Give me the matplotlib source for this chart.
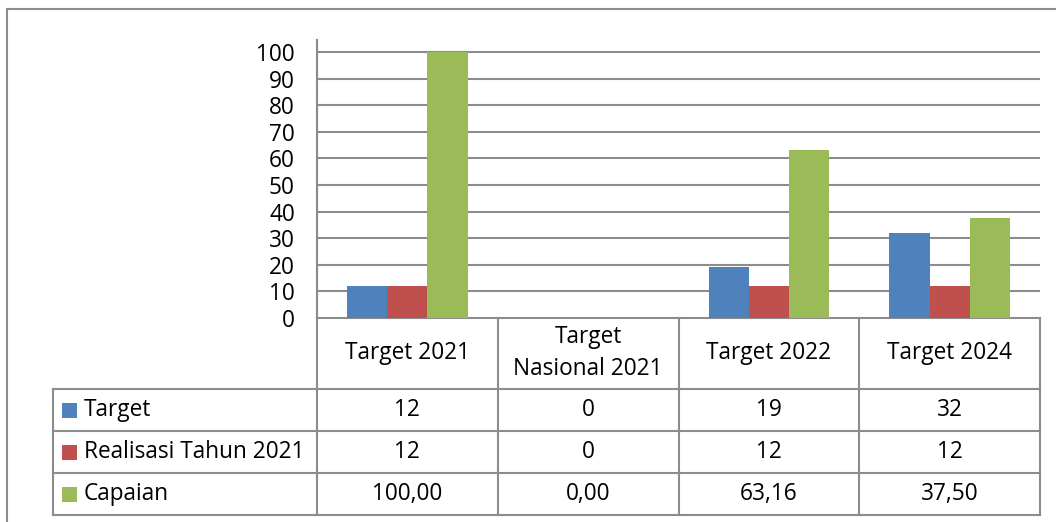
import matplotlib.pyplot as plt
from matplotlib.transforms import blended_transform_factory
from matplotlib.patches import Rectangle

categories = ['Target 2021', 'Target\nNasional 2021', 'Target 2022', 'Target 2024']
series_names = ['Target', 'Realisasi Tahun 2021', 'Capaian']
target = [12, 0, 19, 32]
realisasi = [12, 0, 12, 12]
capaian = [100.00, 0.00, 63.16, 37.50]
yticks = [0, 10, 20, 30, 40, 50, 60, 70, 80, 90, 100]

colors = ['#4F81BD', '#C0504D', '#9BBB59']
grid_c = '#8C8C8C'
W, H = 1056, 522
fs = 16.3

plt.rcParams['font.family'] = ['Open Sans', 'DejaVu Sans']
fig = plt.figure(figsize=(W / 100, H / 100), dpi=100)
fig.set_facecolor('white')

# pixel-space overlay used for the frame and the data table
pax = fig.add_axes([0, 0, 1, 1])
pax.set_xlim(0, W)
pax.set_ylim(H, 0)
pax.axis('off')

# plot area: x 317..1040, y 40..318 (px)
px_l, px_r, px_top, px_base = 317, 1040, 40, 318
ax = fig.add_axes([px_l / W, (H - px_base) / H, (px_r - px_l) / W,
                   (px_base - px_top) / H])
ax.set_facecolor('none')
unit = 26.6 / 10.0
ax.set_ylim(0, (px_base - px_top) / unit)
ax.set_xlim(-0.5, len(categories) - 0.5)

series = [target, realisasi, capaian]
bw = 1.0 / 4.5
for k, vals in enumerate(series):
    xs = [i + (k - 1) * bw for i in range(len(categories))]
    ax.bar(xs, vals, width=bw, color=colors[k], zorder=3, linewidth=0)

for y in yticks[1:]:
    ax.axhline(y, color=grid_c, lw=1.5, zorder=1)
for s in ['top', 'right', 'bottom']:
    ax.spines[s].set_visible(False)
ax.spines['left'].set_color(grid_c)
ax.spines['left'].set_linewidth(1.5)
ax.set_xticks([])
ax.set_yticks(yticks)
ax.set_yticklabels([str(v) for v in yticks], fontsize=fs)
ax.tick_params(axis='y', length=0, pad=16)

# outer chart frame
pax.plot([7, W], [9, 9], color=grid_c, lw=1.5)
pax.plot([7, 7], [9, H], color=grid_c, lw=1.5)

# data table below the plot
col_edges = [px_l + (px_r - px_l) * i / 4 for i in range(5)]
row_edges = [389, 431, 473, 515]
lw = 1.5
pax.plot([px_l, px_r], [px_base, px_base], color=grid_c, lw=lw)
for x in col_edges:
    pax.plot([x, x], [px_base, row_edges[-1]], color=grid_c, lw=lw)
pax.plot([px_l, px_l], [px_top, px_base], color=grid_c, lw=lw)
for y in row_edges:
    pax.plot([53, px_r], [y, y], color=grid_c, lw=lw)
pax.plot([53, 53], [row_edges[0], row_edges[-1]], color=grid_c, lw=lw)

tr = blended_transform_factory(ax.transData, pax.transData)
for i, c in enumerate(categories):
    pax.text(i, 353, c, transform=tr, ha='center', va='center',
             fontsize=fs, linespacing=1.45)

fmt = [lambda v: '%d' % v, lambda v: '%d' % v,
       lambda v: ('%.2f' % v).replace('.', ',')]
for k, vals in enumerate(series):
    yc = (row_edges[k] + row_edges[k + 1]) / 2
    pax.add_patch(Rectangle((62, yc - 7.5), 15, 15, color=colors[k], lw=0))
    pax.text(84, yc, series_names[k], ha='left', va='center', fontsize=fs)
    for i, v in enumerate(vals):
        pax.text(i, yc, fmt[k](v), transform=tr, ha='center', va='center',
                 fontsize=fs)

fig.savefig('out.png', dpi=100)
